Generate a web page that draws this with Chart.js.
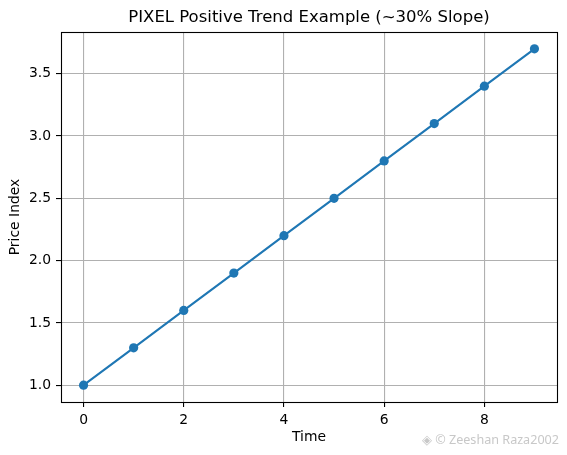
<!DOCTYPE html>
<html>
<head>
<meta charset="utf-8">
<script src="https://cdn.jsdelivr.net/npm/chart.js@4.4.0/dist/chart.umd.min.js"></script>
<style>
html,body{margin:0;padding:0;background:#fff;}
#wrap{width:567px;height:455px;position:relative;}
</style>
</head>
<body>
<div id="wrap"><canvas id="c" width="567" height="455"></canvas></div>
<script>
const timeValues = [0, 1, 2, 3, 4, 5, 6, 7, 8, 9];
const priceValues = [1.0, 1.3, 1.6, 1.9, 2.2, 2.5, 2.8, 3.1, 3.4, 3.7];
const xTickValues = [0, 2, 4, 6, 8];
const yTickValues = [1.0, 1.5, 2.0, 2.5, 3.0, 3.5];
const titleText = 'PIXEL Positive Trend Example (~30% Slope)';
const xLabel = 'Time';
const yLabel = 'Price Index';
const watermarkText = '\u25C8 \u00A9 Zeeshan Raza2002';

const FONT = "'DejaVu Sans', sans-serif";

const framePlugin = {
  id: 'frame',
  afterDatasetsDraw(chart) {
    const {ctx, chartArea: a} = chart;
    ctx.save();
    ctx.strokeStyle = '#000';
    ctx.lineWidth = 1.1;
    ctx.strokeRect(Math.round(a.left) + 0.5, Math.round(a.top) + 0.5,
      Math.round(a.right - a.left), Math.round(a.bottom - a.top));
    ctx.restore();
  },
  afterDraw(chart) {
    const {ctx, chartArea: a} = chart;
    ctx.save();
    ctx.fillStyle = '#000';
    ctx.font = "16.5px " + FONT;
    ctx.textAlign = 'center';
    ctx.textBaseline = 'middle';
    ctx.fillText(titleText, (a.left + a.right) / 2, 18);
    ctx.fillStyle = '#c8c8c8';
    ctx.font = "12.6px 'Noto Sans', sans-serif";
    ctx.textAlign = 'right';
    ctx.textBaseline = 'middle';
    ctx.fillText(watermarkText, 559, 440);
    ctx.restore();
  }
};

new Chart(document.getElementById('c'), {
  type: 'line',
  data: {
    datasets: [{
      data: timeValues.map((t, i) => ({x: t, y: priceValues[i]})),
      borderColor: '#1f77b4',
      backgroundColor: '#1f77b4',
      borderWidth: 2.1,
      pointRadius: 4.6,
      pointHoverRadius: 4.6,
      pointBorderWidth: 0,
      pointBackgroundColor: '#1f77b4',
      tension: 0,
      fill: false
    }]
  },
  options: {
    responsive: false,
    animation: false,
    events: [],
    layout: {padding: {left: 0, right: 10, top: 32, bottom: 0}},
    plugins: {
      legend: {display: false},
      tooltip: {enabled: false},
      title: {display: false}
    },
    scales: {
      x: {
        type: 'linear',
        min: -0.45,
        max: 9.45,
        afterBuildTicks(s) { s.ticks = xTickValues.map(v => ({value: v})); },
        afterFit(s) { s.height = 53; },
        ticks: {
          color: '#000',
          font: {family: FONT, size: 13.9},
          padding: 5,
          maxRotation: 0,
          callback: v => String(v)
        },
        grid: {color: '#b0b0b0', lineWidth: 1.1, tickLength: 5, tickColor: '#000', tickWidth: 1.1},
        border: {display: false},
        title: {
          display: true,
          text: xLabel,
          color: '#000',
          font: {family: FONT, size: 13.9, lineHeight: 1.2},
          padding: {top: 0, bottom: 9.6}
        }
      },
      y: {
        type: 'linear',
        min: 0.865,
        max: 3.835,
        afterBuildTicks(s) { s.ticks = yTickValues.map(v => ({value: v})); },
        afterFit(s) { s.width = 61; },
        ticks: {
          color: '#000',
          font: {family: FONT, size: 13.9},
          padding: 5,
          callback: v => Number(v).toFixed(1)
        },
        grid: {color: '#b0b0b0', lineWidth: 1.1, tickLength: 5, tickColor: '#000', tickWidth: 1.1},
        border: {display: false},
        title: {
          display: true,
          text: yLabel,
          color: '#000',
          font: {family: FONT, size: 13.9, lineHeight: 1.2},
          padding: {top: 6.6, bottom: 0}
        }
      }
    }
  },
  plugins: [framePlugin]
});
</script>
</body>
</html>
